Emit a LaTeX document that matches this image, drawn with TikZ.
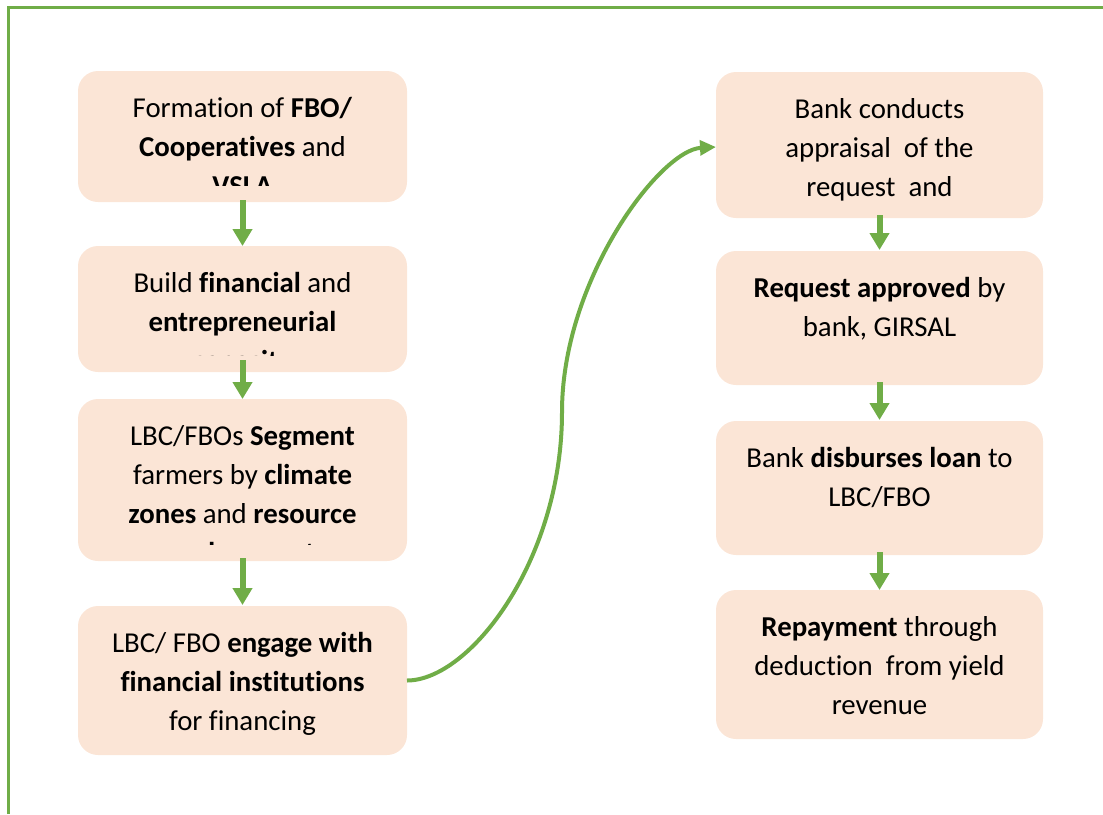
\documentclass[tikz,border=0pt]{standalone}
\usepackage{fontspec}
\setmainfont{Carlito}[Ligatures={NoCommon}]
\usetikzlibrary{arrows.meta}

\definecolor{peach}{HTML}{FBE5D6}
\definecolor{leaf}{HTML}{70AD47}

% A rounded step box with its text, clipped a little above the box bottom
\newcommand{\flowbox}[6]{%
  \node[box, minimum width=#4, minimum height=#5, anchor=north west] (#1) at (#2,#3) {};
  \begin{scope}
    \clip ([yshift=12.75pt]#1.south west) rectangle (#1.north east);
    \node[boxtext, anchor=north] (#1-text) at ([yshift=-17.25pt]#1.north) {\rule{0pt}{0.8em}#6};
  \end{scope}
}

\begin{document}
\begin{tikzpicture}[x=0.75pt, y=-0.75pt,
  box/.style={fill=peach, draw=none, rounded corners=15pt, inner sep=0pt, outer sep=0pt},
  boxtext/.style={inner sep=0pt, align=center, text=black,
    font=\fontsize{21.6}{29.4}\selectfont},
  flow/.style={draw=leaf, line width=4.5pt,
    -{Triangle[width=14.25pt, length=12.75pt]}},
  curvearrow/.style={draw=leaf, line width=3pt,
    -{Triangle[width=11pt, length=12pt]}},
  frame/.style={draw=leaf, line width=2.4pt, line join=miter}]

\useasboundingbox (0,0) rectangle (1103,814);

% outer frame (top and left edges)
\draw[frame] (8.5,814) -- (8.5,7.5) -- (1103,7.5);

% left column
\flowbox{b1}{78}{71}{246.75pt}{98.25pt}{Formation of \textbf{FBO/}\\\textbf{Cooperatives} and\\\textbf{VSLA}}
\flowbox{b2}{78}{246}{246.75pt}{94.5pt}{Build \textbf{financial} and\\\textbf{entrepreneurial}\\\textbf{capacity}}
\flowbox{b3}{78}{399}{246.75pt}{121.5pt}{LBC/FBOs \textbf{Segment}\\farmers by \textbf{climate}\\\textbf{zones} and \textbf{resource}\\\textbf{endowment}}
\flowbox{b4}{78}{606}{246.75pt}{111.75pt}{LBC/ FBO \textbf{engage with}\\\textbf{financial institutions}\\for financing}

% right column
\flowbox{r1}{716}{72}{245.25pt}{109.5pt}{Bank conducts\\appraisal~ of the\\request~ and}
\flowbox{r2}{716}{251}{245.25pt}{100.5pt}{\textbf{Request approved} by\\bank, GIRSAL}
\flowbox{r3}{716}{421}{245.25pt}{100.5pt}{Bank \textbf{disburses loan} to\\LBC/FBO}
\flowbox{r4}{716}{590}{245.25pt}{111.75pt}{\textbf{Repayment} through\\deduction~ from yield\\revenue}

% step arrows
\draw[flow] ([yshift=1.5pt]b1.south) -- (b2.north);
\draw[flow] ([yshift=9pt]b2.south) -- (b3.north);
\draw[flow] ([yshift=2.25pt]b3.south) -- ([yshift=0.75pt]b4.north);
\draw[flow] ([yshift=2.25pt]r1.south) -- ([yshift=0.75pt]r2.north);
\draw[flow] ([yshift=2.25pt]r2.south) -- ([yshift=0.75pt]r3.north);
\draw[flow] ([yshift=2.25pt]r3.south) -- (r4.north);

% link from the left column to the right column
\draw[curvearrow] (b4.east) .. controls +(63,0) and (562,560) .. (562,412)
  .. controls (562,280) and (660,150) .. ([yshift=-1.5pt]r1.west);

\end{tikzpicture}
\end{document}
